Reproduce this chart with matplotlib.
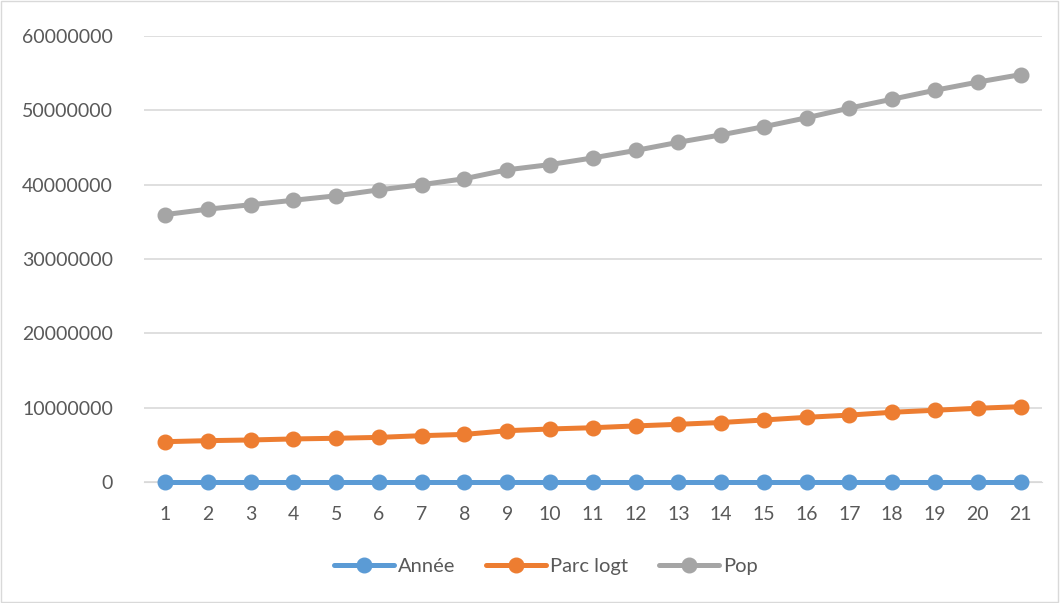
import matplotlib.pyplot as plt
from matplotlib.patches import Rectangle

categories = list(range(1, 22))
annee = list(range(2000, 2021))
parc_logt = [5420000, 5560000, 5650000, 5790000, 5880000, 6000000, 6230000, 6400000,
             6900000, 7130000, 7300000, 7540000, 7760000, 8000000, 8340000, 8700000,
             9000000, 9380000, 9650000, 9920000, 10130000]
pop = [35970000, 36700000, 37300000, 37900000, 38500000, 39300000, 40000000, 40800000,
       42000000, 42700000, 43600000, 44600000, 45700000, 46700000, 47800000, 49000000,
       50300000, 51500000, 52700000, 53800000, 54800000]

plt.rcParams['font.family'] = ['Lato', 'DejaVu Sans']
txt = '#595959'

fig = plt.figure(figsize=(10.6, 6.03), dpi=100)
ax = fig.add_axes([0.1355, 0.2007, 0.8475, 0.7396])

series = [('Année', annee, '#5B9BD5'),
          ('Parc logt', parc_logt, '#ED7D31'),
          ('Pop', pop, '#A5A5A5')]
for name, vals, col in series:
    ax.plot(categories, vals, color=col, lw=3.6, marker='o', ms=10.5,
            label=name, solid_capstyle='round', clip_on=False, zorder=3)

ax.set_xlim(0.5, 21.5)
ax.set_ylim(0, 60000000)
ax.set_yticks(range(0, 60000001, 10000000))
ax.set_yticklabels([str(v) for v in range(0, 60000001, 10000000)])
ax.set_xticks(categories)
ax.grid(axis='y', color='#D9D9D9', lw=1.2)
ax.set_axisbelow(True)
for s in ['top', 'right', 'left']:
    ax.spines[s].set_visible(False)
ax.spines['bottom'].set_color('#D9D9D9')
ax.tick_params(length=0, labelsize=14, colors=txt)
ax.tick_params(axis='x', pad=17)
ax.tick_params(axis='y', pad=22)

leg = fig.legend(loc='center', bbox_to_anchor=(0.515, 0.061), ncol=3, frameon=False,
                 fontsize=14.5, handlelength=3, columnspacing=1.5, handletextpad=0.2)
for t in leg.get_texts():
    t.set_color(txt)

fig.patches.append(Rectangle((0.001, 0.002), 0.997, 0.996, transform=fig.transFigure,
                             fill=False, ec='#D9D9D9', lw=1))
fig.savefig('out.png', dpi=100)
